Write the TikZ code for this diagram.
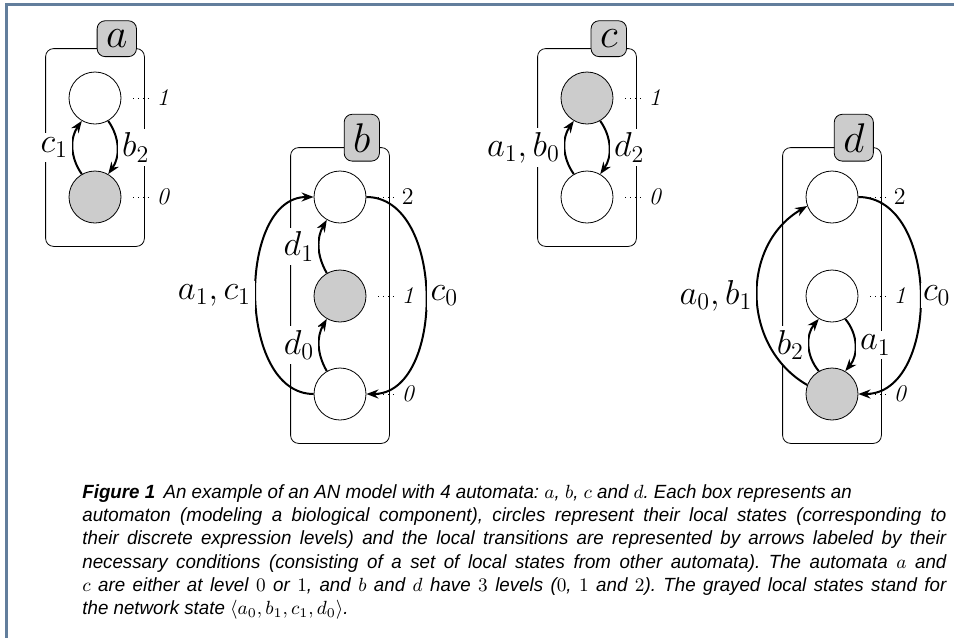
\documentclass[tikz,border=0pt]{standalone}
\usepackage{fix-cm}
\usepackage{fontspec}
\usetikzlibrary{arrows.meta,fit,positioning}
\newfontfamily\capfont{Liberation Sans}
\definecolor{framecol}{RGB}{98,126,156}

\begin{document}
\begin{tikzpicture}[x=0.5pt,y=0.5pt,
  state/.style={circle,draw,thin,minimum size=26pt,inner sep=0pt},
  on/.style={state,fill=black!20},
  box/.style={draw,thin,rounded corners=4pt,inner sep=11.5pt},
  tab/.style={draw,thin,fill=black!20,rounded corners=4pt,inner sep=4.5pt,font=\huge},
  trans/.style={-{Stealth[length=6pt,width=4.5pt]},line width=1pt},
  cond/.style={fill=white,inner sep=2pt,font=\LARGE},
  lvl/.style={dotted,thin},
  lvltxt/.style={inner sep=2pt,font=\large,right=15.5pt of #1},
  captxt/.style={anchor=north west,inner sep=0pt,align=justify,text width=440.8pt,
    xscale=0.98,transform shape,font=\capfont\itshape\fontsize{9.55}{11.67}\selectfont\frenchspacing}]
\useasboundingbox (0,0) rectangle (954,-638);
\draw[framecol,line width=1.5pt] (954,-4) -- (6.5,-4) -- (6.5,-638);

% automaton a
\node[state] (a1) at (95,-98) {};
\node[on] (a0) at (95,-197) {};
\node[box,fit=(a1)(a0)] (boxa) {};
\node[tab] (taba) at ([xshift=-14pt,yshift=4.75pt]boxa.north east) {$a$};
\node[lvltxt=a1] (la1) {\textit{1}};
\node[lvltxt=a0] (la0) {\textit{0}};
\draw[lvl] ([xshift=6pt]a1.east) -- (la1.west);
\draw[lvl] ([xshift=6pt]a0.east) -- (la0.west);
\draw[trans] (a0.120) to[bend left=35] node[cond,left] {$c_1$} (a1.240);
\draw[trans] (a1.300) to[bend left=35] node[cond,right] {$b_2$} (a0.60);

% automaton b
\node[state] (b2) at (340,-197) {};
\node[on] (b1) at (340,-296) {};
\node[state] (b0) at (340,-394) {};
\node[box,fit=(b2)(b0)] (boxb) {};
\node[tab] (tabb) at ([xshift=-14pt,yshift=4.75pt]boxb.north east) {$b$};
\node[lvltxt=b2] (lb2) {2};
\node[lvltxt=b1] (lb1) {\textit{1}};
\node[lvltxt=b0] (lb0) {\textit{0}};
\draw[lvl] ([xshift=6pt]b2.east) -- (lb2.west);
\draw[lvl] ([xshift=6pt]b1.east) -- (lb1.west);
\draw[lvl] ([xshift=6pt]b0.east) -- (lb0.west);
\draw[trans] (b0.120) to[bend left=30] node[cond,left] {$d_0$} (b1.240);
\draw[trans] (b1.120) to[bend left=30] node[cond,left] {$d_1$} (b2.240);
\draw[trans] (b0.west) to[out=180,in=180,looseness=1] node[cond,left] {$a_1, c_1$} (b2.west);
\draw[trans] (b2.east) to[out=0,in=0,looseness=1.03] node[cond,right] {$c_0$} (b0.east);

% automaton c
\node[on] (c1) at (587,-98) {};
\node[state] (c0) at (587,-197) {};
\node[box,fit=(c1)(c0)] (boxc) {};
\node[tab] (tabc) at ([xshift=-14pt,yshift=4.75pt]boxc.north east) {$c$};
\node[lvltxt=c1] (lc1) {\textit{1}};
\node[lvltxt=c0] (lc0) {\textit{0}};
\draw[lvl] ([xshift=6pt]c1.east) -- (lc1.west);
\draw[lvl] ([xshift=6pt]c0.east) -- (lc0.west);
\draw[trans] (c0.120) to[bend left=35] node[cond,left] {$a_1, b_0$} (c1.240);
\draw[trans] (c1.300) to[bend left=35] node[cond,right] {$d_2$} (c0.60);

% automaton d
\node[state] (d2) at (832,-197) {};
\node[state] (d1) at (832,-296) {};
\node[on] (d0) at (832,-394) {};
\node[box,fit=(d2)(d0)] (boxd) {};
\node[tab] (tabd) at ([xshift=-14pt,yshift=4.75pt]boxd.north east) {$d$};
\node[lvltxt=d2] (ld2) {2};
\node[lvltxt=d1] (ld1) {\textit{1}};
\node[lvltxt=d0] (ld0) {\textit{0}};
\draw[lvl] ([xshift=6pt]d2.east) -- (ld2.west);
\draw[lvl] ([xshift=6pt]d1.east) -- (ld1.west);
\draw[lvl] ([xshift=6pt]d0.east) -- (ld0.west);
\draw[trans] (d0.120) to[bend left=40] node[cond,left] {$b_2$} (d1.240);
\draw[trans] (d1.300) to[bend left=40] node[cond,right] {$a_1$} (d0.60);
\draw[trans] (d0.160) to[out=150,in=210,looseness=1.1] node[cond,left] {$a_0, b_1$} (d2.200);
\draw[trans] (d2.east) to[out=0,in=0,looseness=1.07] node[cond,right,inner sep=1pt] {$c_0$} (d0.east);

% caption
\node[captxt] (cap) at (82,-484) {\textbf{Figure 1}\hspace{0.45em}An example of an AN model with 4 automata: $a$, $b$, $c$ and $d$. Each box represents an\newline
automaton (modeling a biological component), circles represent their local states (corresponding to\linebreak
their discrete expression levels) and the local transitions are represented by arrows labeled by their\linebreak
necessary conditions (consisting of a set of local states from other automata). The automata $a$ and\linebreak
$c$ are either at level $0$ or $1$, and $b$ and $d$ have $3$ levels ($0$, $1$ and $2$). The grayed local states stand for\linebreak
the network state $\langle a_0, b_1, c_1, d_0\rangle$.};
\end{tikzpicture}
\end{document}
